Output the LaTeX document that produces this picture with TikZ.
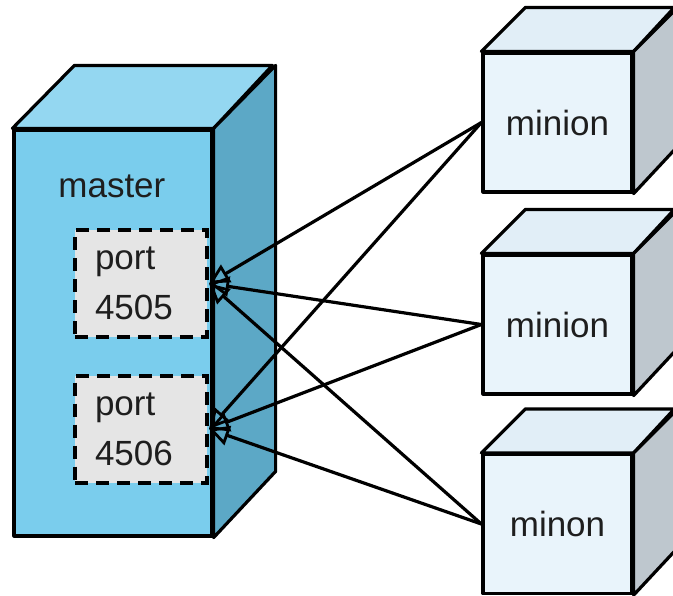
\documentclass[tikz,border=0pt]{standalone}
\usepackage{fontspec}
\setmainfont{Liberation Sans}
\usetikzlibrary{arrows.meta}
\definecolor{masterfront}{RGB}{122,205,237}
\definecolor{mastertop}{RGB}{148,215,241}
\definecolor{masterside}{RGB}{92,168,198}
\definecolor{portfill}{RGB}{229,229,229}
\definecolor{minionfront}{RGB}{233,244,251}
\definecolor{miniontop}{RGB}{225,238,247}
\definecolor{minionside}{RGB}{190,199,206}
\definecolor{textgray}{RGB}{30,30,30}
\tikzset{
    face/.style = {draw=black, line width=1.6pt, line join=round},
    masterbox/.style = {rectangle, face, fill=masterfront, minimum width=99pt, minimum height=203pt, inner sep=0pt},
    portbox/.style = {rectangle, draw=black, line width=2pt, dash pattern=on 6.5pt off 4pt, fill=portfill, minimum height=53.5pt, text width=46pt, inner xsep=10pt, align=left, font=\fontsize{17.5}{25}\selectfont, text=textgray},
    minionbox/.style = {rectangle, face, fill=minionfront, minimum width=74.5pt, minimum height=69.5pt, inner sep=0pt, font=\fontsize{17.5}{21}\selectfont, text=textgray},
    label/.style = {font=\fontsize{17.5}{21}\selectfont, text=textgray, inner sep=0pt},
    arrow/.style = {line width=1.6pt, -{Triangle[open, length=10pt, width=10pt, line width=1.4pt]}}
}
\begin{document}
\begin{tikzpicture}[x=0.5pt, y=-0.5pt]
\useasboundingbox (0,0) rectangle (673,595);
% master
\node (master) [masterbox] at (113,333) {};
\draw [face, fill=mastertop] (master.north west) -- ++(62,-63) -- ++(198,0) -- (master.north east) -- cycle;
\draw [face, fill=masterside] (master.north east) -- ++(62,-63) -- ++(0,406) -- (master.south east) -- cycle;
\node (mlabel) [label, anchor=base west] at (58,197) {master};
\node (p1) [portbox] at (141,283.5) {port\\4505};
\node (p2) [portbox] at (141,429) {port\\4506};
% minions
\node (m1) [minionbox] at (557.5,122.5) {minion};
\node (m2) [minionbox] at (557.5,324.5) {minion};
\node (m3) [minionbox] at (557.5,524) {minon};
\foreach \m in {m1,m2,m3} {
    \draw [face, fill=miniontop] (\m.north west) -- ++(44,-44) -- ++(149,0) -- (\m.north east) -- cycle;
    \draw [face, fill=minionside] (\m.north east) -- ++(44,-44) -- ++(0,139) -- (\m.south east) -- cycle;
}
% connections
\draw [arrow] (m1.west) -- (p1.east);
\draw [arrow] (m1.west) -- (p2.east);
\draw [arrow] (m2.west) -- (p1.east);
\draw [arrow] (m2.west) -- (p2.east);
\draw [arrow] (m3.west) -- (p1.east);
\draw [arrow] (m3.west) -- (p2.east);
\end{tikzpicture}
\end{document}
